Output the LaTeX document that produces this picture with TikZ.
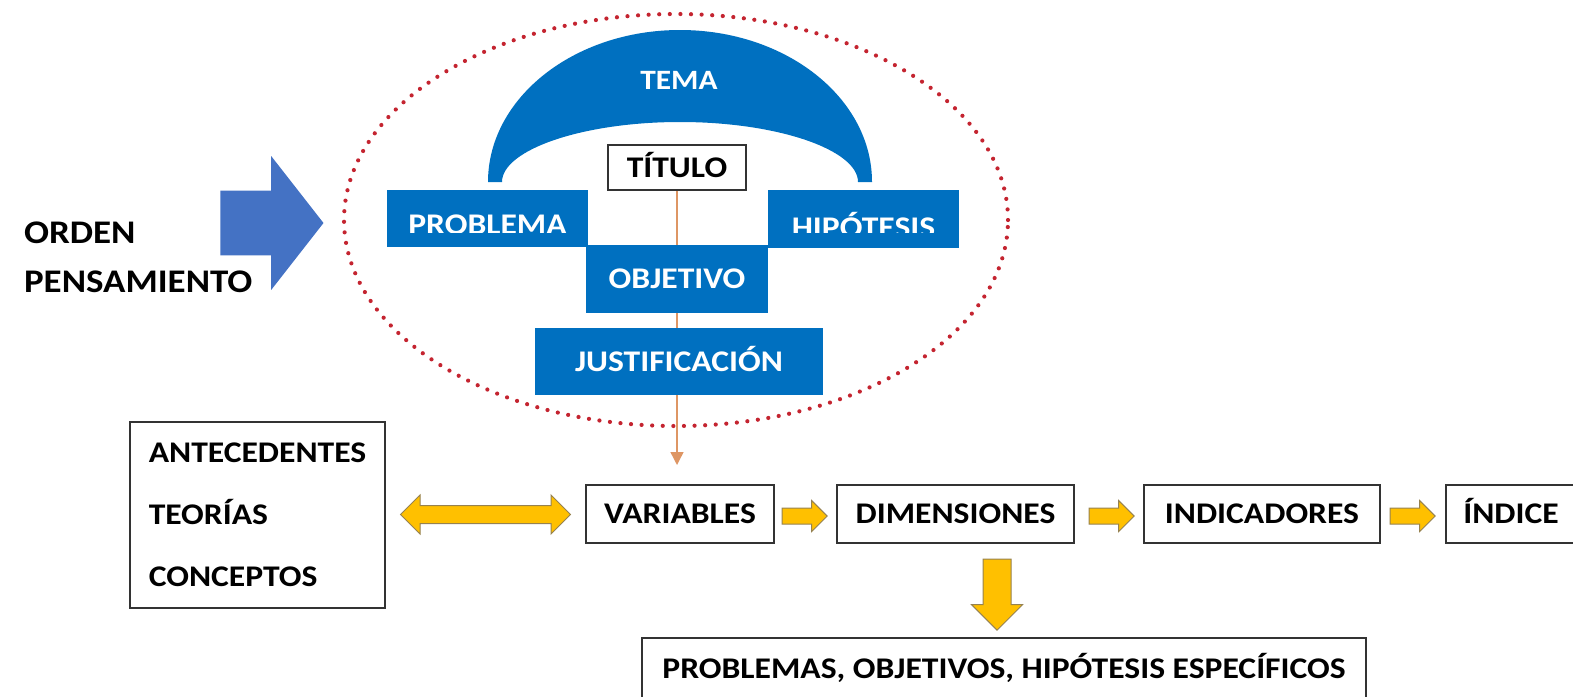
\documentclass[tikz,border=0pt]{standalone}
\usepackage{fontspec}
\setmainfont{Carlito}[FakeStretch=1.12]
\usetikzlibrary{shapes.geometric,shapes.arrows,calc,arrows.meta}
\definecolor{boxblue}{RGB}{0,112,192}
\definecolor{arrblue}{RGB}{68,114,196}
\definecolor{yel}{RGB}{255,192,0}
\definecolor{yelline}{RGB}{150,130,80}
\definecolor{dotred}{RGB}{196,36,48}
\definecolor{lineor}{RGB}{222,150,100}
\begin{document}
\begin{tikzpicture}[x=0.5pt,y=-0.5pt,
  txt/.style={font=\fontsize{15}{18}\selectfont\bfseries},
  boxbase/.style={draw=black!80, line width=1.1pt, fill=white, inner sep=0pt, txt, text=black},
  rowbox/.style={boxbase, text height=9.7pt, text depth=0pt},
  bluebox/.style={fill=boxblue, draw=none, inner sep=0pt, txt, text=white, text height=9.7pt, text depth=0pt},
  yarr/.style={single arrow, fill=yel, draw=yelline, line width=0.5pt, inner sep=0pt, inner ysep=3.75pt,
    minimum height=22.5pt, minimum width=15pt, single arrow head extend=3.75pt},
  downarr/.style={single arrow, fill=yel, draw=yelline, line width=0.5pt, inner sep=0pt, inner ysep=6.75pt,
    minimum height=35.5pt, minimum width=25pt, single arrow head extend=5.75pt},
  darr/.style={double arrow, fill=yel, draw=yelline, line width=0.5pt, inner sep=0pt, inner ysep=4.25pt,
    minimum height=85pt, minimum width=19pt, double arrow head extend=5.25pt},
  bigarr/.style={single arrow, fill=arrblue, draw=none, inner sep=0pt, inner ysep=16pt,
    minimum height=51.5pt, minimum width=66.5pt, single arrow head extend=17.25pt, single arrow tip angle=104},
  dotell/.style={ellipse, draw=dotred, line width=2.1pt, dash pattern=on 0pt off 5.3pt, line cap=round, inner sep=0pt}
]
\useasboundingbox (0,0) rectangle (1573,696);
\clip (0,0) rectangle (1573,696);

% left label and big arrow
\node[anchor=base west, font=\fontsize{16.5}{20}\selectfont\bfseries] (orden) at (17,243) {ORDEN};
\node[anchor=base west, font=\fontsize{16.5}{20}\selectfont\bfseries] (pens) at (17,292) {PENSAMIENTO};
\node[bigarr, anchor=tip] (big) at (324,223) {};

% dotted ellipse
\node[dotell, minimum width=332pt, minimum height=206pt] (ell) at (676,220) {};

% crescent TEMA
\fill[boxblue] (488,182) .. controls (488,98) and (574,30) .. (680,30)
  .. controls (786,30) and (872,98) .. (872,182) -- (858,182)
  .. controls (858,150) and (778,122) .. (680,122)
  .. controls (582,122) and (502,150) .. (502,182) -- cycle;
\node[font=\fontsize{14}{17}\selectfont\bfseries, text=white] (tema) at (679,80) {TEMA};

% titulo and vertical line
\node[rowbox, line width=1pt, minimum width=69pt, minimum height=22.5pt] (tit) at (677,167.5) {TÍTULO};
\coordinate (vend) at (678,465);
\draw[lineor, line width=0.7pt, -{Triangle[length=6.5pt,width=6.5pt]}] (tit.south) -- (tit.south |- vend);

% blue boxes
\node[bluebox, minimum width=100.5pt, minimum height=28.5pt] (prob) at (487.5,218.5) {};
\node[bluebox, minimum width=95.5pt, minimum height=29pt] (hip) at (863.5,219) {};
\begin{scope}
  \clip (387,190) rectangle (959,232);
  \node[anchor=base, txt, text=white] (probt) at (487.5,234) {PROBLEMA};
  \node[anchor=base, txt, text=white] (hipt) at (863.5,237) {HIPÓTESIS};
\end{scope}
\node[bluebox, minimum width=91pt, minimum height=34pt] (obj) at (677,279) {OBJETIVO};
\node[bluebox, minimum width=144pt, minimum height=33.5pt] (just) at (679,361.5) {JUSTIFICACIÓN};

% bottom part
\node[boxbase, align=left, font=\fontsize{15}{31}\selectfont\bfseries, minimum width=127.5pt, minimum height=93pt] (ante)
  at (257.5,515) {ANTECEDENTES\\TEORÍAS\\CONCEPTOS};
\node[rowbox, minimum width=94pt, minimum height=29pt] (var) at (680,514) {VARIABLES};
\node[rowbox, minimum width=118.5pt, minimum height=29pt] (dim) at (955.5,514) {DIMENSIONES};
\node[rowbox, minimum width=118pt, minimum height=29pt] (ind) at (1262,514) {INDICADORES};
\node[rowbox, minimum width=65pt, minimum height=29pt] (indice) at (1511,514) {ÍNDICE};
\node[rowbox, minimum width=362pt, minimum height=31pt] (pe) at (1004,669) {PROBLEMAS, OBJETIVOS, HIPÓTESIS ESPECÍFICOS};

\node[darr] (dbl) at ($(ante.east)!0.5!(var.west)$) {};
\node[yarr, anchor=tip] (a1) at ($(dim.west)+(-8,2)$) {};
\node[yarr, anchor=tip] (a2) at ($(ind.west)+(-8,2)$) {};
\node[yarr, anchor=tip] (a3) at ($(indice.west)+(-9,2)$) {};
\node[downarr, rotate=-90, anchor=tip] (down) at ($(pe.north)+(-7,-6)$) {};
\end{tikzpicture}
\end{document}
